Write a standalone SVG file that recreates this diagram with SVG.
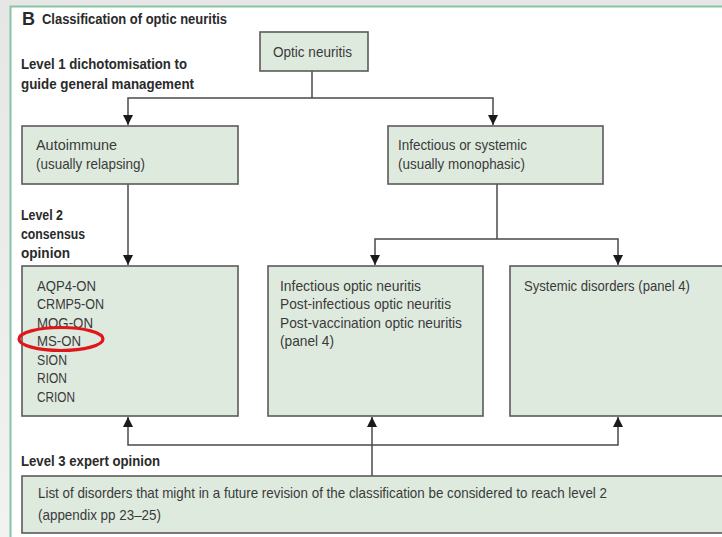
<svg xmlns="http://www.w3.org/2000/svg" width="722" height="537" viewBox="0 0 722 537">
<defs>
<linearGradient id="bg" x1="0" y1="0" x2="0" y2="1">
<stop offset="0" stop-color="#e6e6e6"/><stop offset="1" stop-color="#f2f2f2"/>
</linearGradient>
<marker id="ah" markerWidth="10" markerHeight="10" refX="10" refY="5" orient="auto" markerUnits="userSpaceOnUse">
<path d="M0,0 L10,5 L0,10 Z" fill="#1a1a1a"/>
</marker>
<style>
.box{fill:#dfeadf;stroke:#5a5a5a;stroke-width:1.6}
.t{font-family:"Liberation Sans","Open Sans",sans-serif;font-size:14.5px;fill:#3a3a3a}
.h{font-family:"Liberation Sans","Open Sans",sans-serif;font-size:14px;font-weight:bold;fill:#2a2a2a}
.c{fill:none;stroke:#4a4a4a;stroke-width:1.5}
.ca{fill:none;stroke:#4a4a4a;stroke-width:1.5;marker-end:url(#ah)}
</style>
</defs>
<rect x="0" y="0" width="722" height="537" fill="url(#bg)"/>
<rect x="10" y="6" width="714" height="535" fill="#ffffff"/>
<path d="M10.5,541 L10.5,6.5 L722,6.5" fill="none" stroke="#86c4a4" stroke-width="2"/>

<g id="headings">
<text x="22" y="25" class="h" style="font-size:18px">B</text>
<text x="42" y="24" class="h" textLength="185" lengthAdjust="spacingAndGlyphs">Classification of optic neuritis</text>
<text x="21" y="69" class="h" textLength="166" lengthAdjust="spacingAndGlyphs">Level 1 dichotomisation to</text>
<text x="21" y="89" class="h" textLength="173" lengthAdjust="spacingAndGlyphs">guide general management</text>
<text x="21" y="220" class="h" textLength="42" lengthAdjust="spacingAndGlyphs">Level 2</text>
<text x="21" y="239" class="h" textLength="64" lengthAdjust="spacingAndGlyphs">consensus</text>
<text x="21" y="258" class="h" textLength="49" lengthAdjust="spacingAndGlyphs">opinion</text>
<text x="21" y="466" class="h" textLength="139" lengthAdjust="spacingAndGlyphs">Level 3 expert opinion</text>
</g>

<g id="connectors">
<path class="c" d="M312,71 L312,98"/>
<path class="ca" d="M312,98 L128,98 L128,125"/>
<path class="ca" d="M312,98 L493,98 L493,125"/>
<path class="ca" d="M128,184 L128,265"/>
<path class="c" d="M497,184 L497,239"/>
<path class="ca" d="M497,239 L375,239 L375,265"/>
<path class="ca" d="M497,239 L618,239 L618,265"/>
<path class="ca" d="M372,476 L372,417"/>
<path class="ca" d="M372,445 L128,445 L128,417"/>
<path class="ca" d="M372,445 L618,445 L618,417"/>
</g>

<g id="optic-neuritis">
<rect class="box" x="260" y="32" width="108" height="39"/>
<text x="273" y="57" class="t" textLength="79" lengthAdjust="spacingAndGlyphs">Optic neuritis</text>
</g>

<g id="autoimmune">
<rect class="box" x="22" y="126" width="216" height="58"/>
<text x="36" y="150" class="t" textLength="81" lengthAdjust="spacingAndGlyphs">Autoimmune</text>
<text x="36" y="169" class="t" textLength="109" lengthAdjust="spacingAndGlyphs">(usually relapsing)</text>
</g>

<g id="infectious-systemic">
<rect class="box" x="388" y="126" width="215" height="58"/>
<text x="398" y="150" class="t" textLength="129" lengthAdjust="spacingAndGlyphs">Infectious or systemic</text>
<text x="398" y="169" class="t" textLength="127" lengthAdjust="spacingAndGlyphs">(usually monophasic)</text>
</g>

<g id="autoimmune-list">
<rect class="box" x="22" y="266" width="216" height="150"/>
<text x="37" y="291" class="t" textLength="59" lengthAdjust="spacingAndGlyphs">AQP4-ON</text>
<text x="37" y="309" class="t" textLength="67" lengthAdjust="spacingAndGlyphs">CRMP5-ON</text>
<text x="37" y="328" class="t" textLength="56" lengthAdjust="spacingAndGlyphs">MOG-ON</text>
<text x="37" y="346" class="t" textLength="44" lengthAdjust="spacingAndGlyphs">MS-ON</text>
<text x="37" y="365" class="t" textLength="30" lengthAdjust="spacingAndGlyphs">SION</text>
<text x="37" y="383" class="t" textLength="30" lengthAdjust="spacingAndGlyphs">RION</text>
<text x="37" y="402" class="t" textLength="38" lengthAdjust="spacingAndGlyphs">CRION</text>
<ellipse cx="61" cy="339" rx="42" ry="11.5" fill="none" stroke="#e0161b" stroke-width="3.2"/>
</g>

<g id="infectious-list">
<rect class="box" x="268" y="266" width="215" height="150"/>
<text x="280" y="291" class="t" textLength="141" lengthAdjust="spacingAndGlyphs">Infectious optic neuritis</text>
<text x="280" y="309" class="t" textLength="171" lengthAdjust="spacingAndGlyphs">Post-infectious optic neuritis</text>
<text x="280" y="328" class="t" textLength="182" lengthAdjust="spacingAndGlyphs">Post-vaccination optic neuritis</text>
<text x="280" y="346" class="t" textLength="54" lengthAdjust="spacingAndGlyphs">(panel 4)</text>
</g>

<g id="systemic">
<rect class="box" x="510" y="266" width="220" height="150"/>
<text x="524" y="291" class="t" textLength="166" lengthAdjust="spacingAndGlyphs">Systemic disorders (panel 4)</text>
</g>

<g id="level3-list">
<rect class="box" x="22" y="476" width="708" height="57"/>
<text x="38" y="498" class="t" textLength="569" lengthAdjust="spacingAndGlyphs">List of disorders that might in a future revision of the classification be considered to reach level 2</text>
<text x="38" y="520" class="t" textLength="123" lengthAdjust="spacingAndGlyphs">(appendix pp 23–25)</text>
</g>
</svg>
